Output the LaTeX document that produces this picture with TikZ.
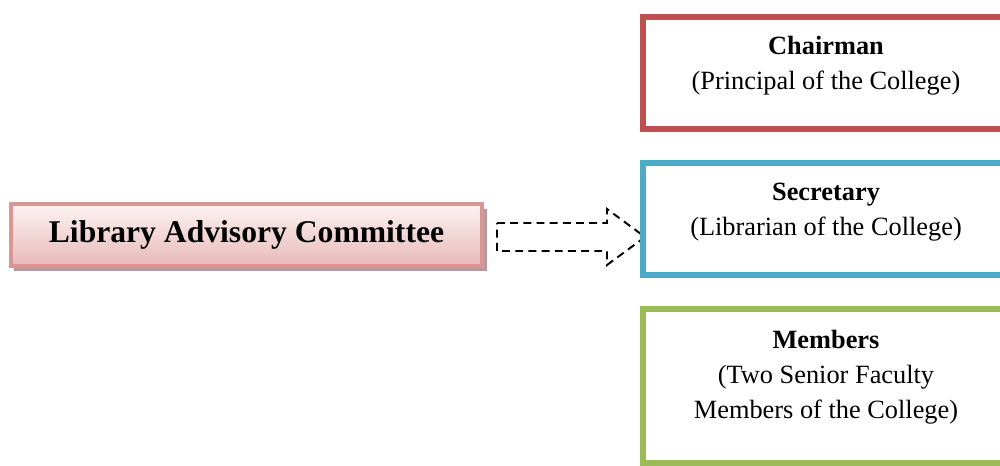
\documentclass[tikz,border=0pt]{standalone}
\usepackage{fontspec}
\setmainfont{Liberation Serif}
\usepackage{tikz}

\definecolor{chairred}{HTML}{C0504D}
\definecolor{secblue}{HTML}{4BACC6}
\definecolor{memgreen}{HTML}{9BBB59}
\definecolor{lacline}{HTML}{D99694}
\definecolor{lactop}{HTML}{FDF3F3}
\definecolor{lacbot}{HTML}{E6B9B8}
\definecolor{lacshade}{HTML}{B99A9A}

\tikzset{
  lacbox/.style={draw=lacline, line width=2pt, top color=lactop, bottom color=lacbot,
                 minimum width=9.42cm, minimum height=1.24cm, inner sep=0pt,
                 font=\fontsize{18}{22}\selectfont\bfseries},
  rolebox/.style={draw=#1, line width=3.4pt, fill=white, minimum width=7.32cm, inner sep=0pt},
  roletext/.style={align=center, font=\fontsize{15}{19.8}\selectfont},
}

\begin{document}
\begin{tikzpicture}[x=0.02cm, y=-0.02cm]
        \useasboundingbox (0,0) rectangle (1000,466);                        %
        \clip (0,0) rectangle (1000,466);                                    %
        \fill [lacshade] (14,209) rectangle (487,271);                       %shadow
        \node [lacbox] (lac) at (246.5,235) {Library Advisory Committee};   %LAC
        \draw [dashed, line width=1.1pt, dash pattern=on 4.5pt off 3pt]
              (497,223) -- (607,223) -- (607,209) -- (645,237)
              -- (607,265) -- (607,251) -- (497,251) -- cycle;               %arrow
        \node [rolebox=chairred, minimum height=2.24cm] (chair) at (826,73) {};   %chairman
        \node [roletext] (chairt) at (826,66) {\textbf{Chairman}\\(Principal of the College)};
        \node [rolebox=secblue, minimum height=2.24cm] (sec) at (826,219) {};     %secretary
        \node [roletext] (sect) at (826,212) {\textbf{Secretary}\\(Librarian of the College)};
        \node [rolebox=memgreen, minimum height=3.08cm] (mem) at (826,386) {};    %members
        \node [roletext] (memt) at (826,377) {\textbf{Members}\\(Two Senior Faculty\\Members of the College)};
\end{tikzpicture}
\end{document}
